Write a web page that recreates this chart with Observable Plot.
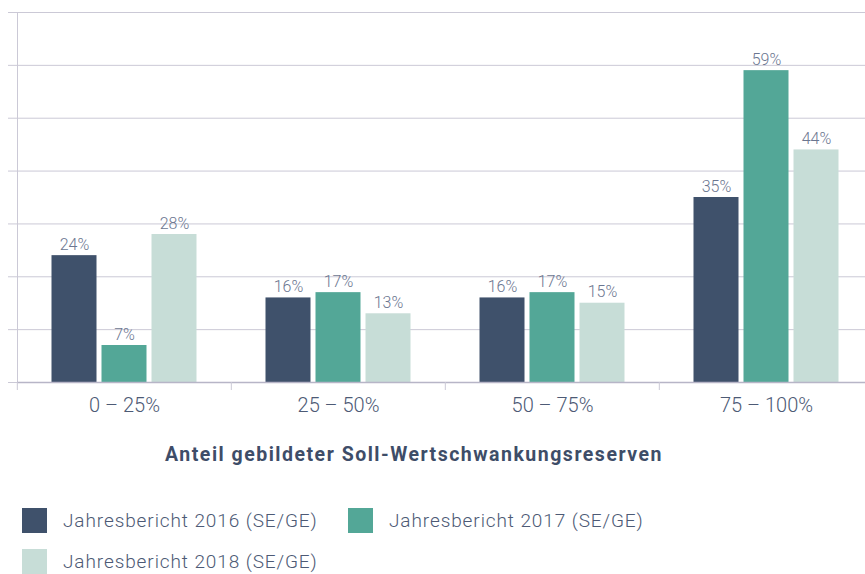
<!DOCTYPE html>
<html>
<head>
<meta charset="utf-8">
<script src="https://cdn.jsdelivr.net/npm/d3@7"></script>
<script src="https://cdn.jsdelivr.net/npm/@observablehq/plot@0.6"></script>
<style>
  body { margin: 0; background: #fff; font-family: Roboto, "Noto Sans", sans-serif; }
  #chart svg { display: block; overflow: hidden; }
  .title { width: 828px; text-align: center; font-weight: 700; font-size: 19.5px; letter-spacing: 1.5px; color: #3e4d68; margin-top: 19px; line-height: 22px; }
  .legend { margin-top: 42px; padding-left: 22px; width: 843px; display: flex; flex-wrap: wrap; row-gap: 16px; }
  .item { display: flex; align-items: center; font-size: 19px; letter-spacing: 0.9px; font-weight: 300; color: #4d5a75; height: 25px; }
  .item span.sw { width: 25px; height: 25px; margin-right: 16px; flex: none; }
  .item.i0 { width: 326px; }
</style>
</head>
<body>
<div id="chart"></div>
<div class="title">Anteil gebildeter Soll-Wertschwankungsreserven</div>
<div class="legend" id="legend"></div>
<script>
const categories = ["0 – 25%", "25 – 50%", "50 – 75%", "75 – 100%"];
const series = ["Jahresbericht 2016 (SE/GE)", "Jahresbericht 2017 (SE/GE)", "Jahresbericht 2018 (SE/GE)"];
const values2016 = [24, 16, 16, 35];
const values2017 = [7, 17, 17, 59];
const values2018 = [28, 13, 15, 44];
const yTicks = [0, 10, 20, 30, 40, 50, 60, 70];
const colors = ["#3f516b", "#53a797", "#c7ddd7"];

const gridColor = "#cbc9d6";
const baseColor = "#b7b5c7";
const labelColor = "#4d5a75";
const valueColor = "#6b7690";

const seriesValues = [values2016, values2017, values2018];
const data = [];
categories.forEach((c, ci) => series.forEach((s, si) => data.push({cat: c, series: s, value: seriesValues[si][ci]})));

const W = 865, H = 425, ML = 16.5, MR = -9, MT = 12, MB = 43;
const bw = (W - ML - MR) / categories.length;

const chart = Plot.plot({
  width: W, height: H,
  marginLeft: ML, marginRight: MR, marginTop: MT, marginBottom: MB,
  style: {fontFamily: "Roboto, 'Noto Sans', sans-serif", background: "transparent"},
  fx: {domain: categories, padding: 0, label: null, axis: null},
  x: {domain: series, paddingInner: 0.1, paddingOuter: 0.68, axis: null},
  y: {domain: [0, 70], axis: null, label: null},
  color: {domain: series, range: colors},
  marks: [
    Plot.gridY(yTicks.slice(1), {stroke: gridColor, strokeOpacity: 1, strokeWidth: 1}),
    Plot.axisY(yTicks, {anchor: "left", tickSize: 9, tickFormat: () => "", label: null, stroke: gridColor, strokeOpacity: 1}),
    Plot.frame({anchor: "left", facetAnchor: "left", stroke: gridColor, strokeOpacity: 1}),
    Plot.barY(data, {fx: "cat", x: "series", y: "value", fill: "series"}),
    Plot.ruleY([0], {stroke: baseColor, strokeWidth: 1.5}),
    Plot.text(data, {fx: "cat", x: "series", y: "value", text: d => d.value + "%", dy: -11, fill: valueColor, fontSize: 16, fontWeight: 300, letterSpacing: 0.6}),
    Plot.axisFx({anchor: "bottom", tickSize: 8, tickFormat: () => "", dx: -bw / 2, stroke: gridColor, strokeOpacity: 1, label: null}),
    Plot.axisFx({anchor: "bottom", tickSize: 0, tickPadding: 15, fontSize: 20, fontWeight: 300, letterSpacing: 1.5, fill: labelColor, label: null})
  ]
});
document.getElementById("chart").appendChild(chart);

const legend = document.getElementById("legend");
series.forEach((s, i) => {
  const it = document.createElement("div");
  it.className = "item i" + i;
  const sw = document.createElement("span");
  sw.className = "sw";
  sw.style.background = colors[i];
  it.appendChild(sw);
  it.appendChild(document.createTextNode(s));
  legend.appendChild(it);
});
</script>
</body>
</html>
